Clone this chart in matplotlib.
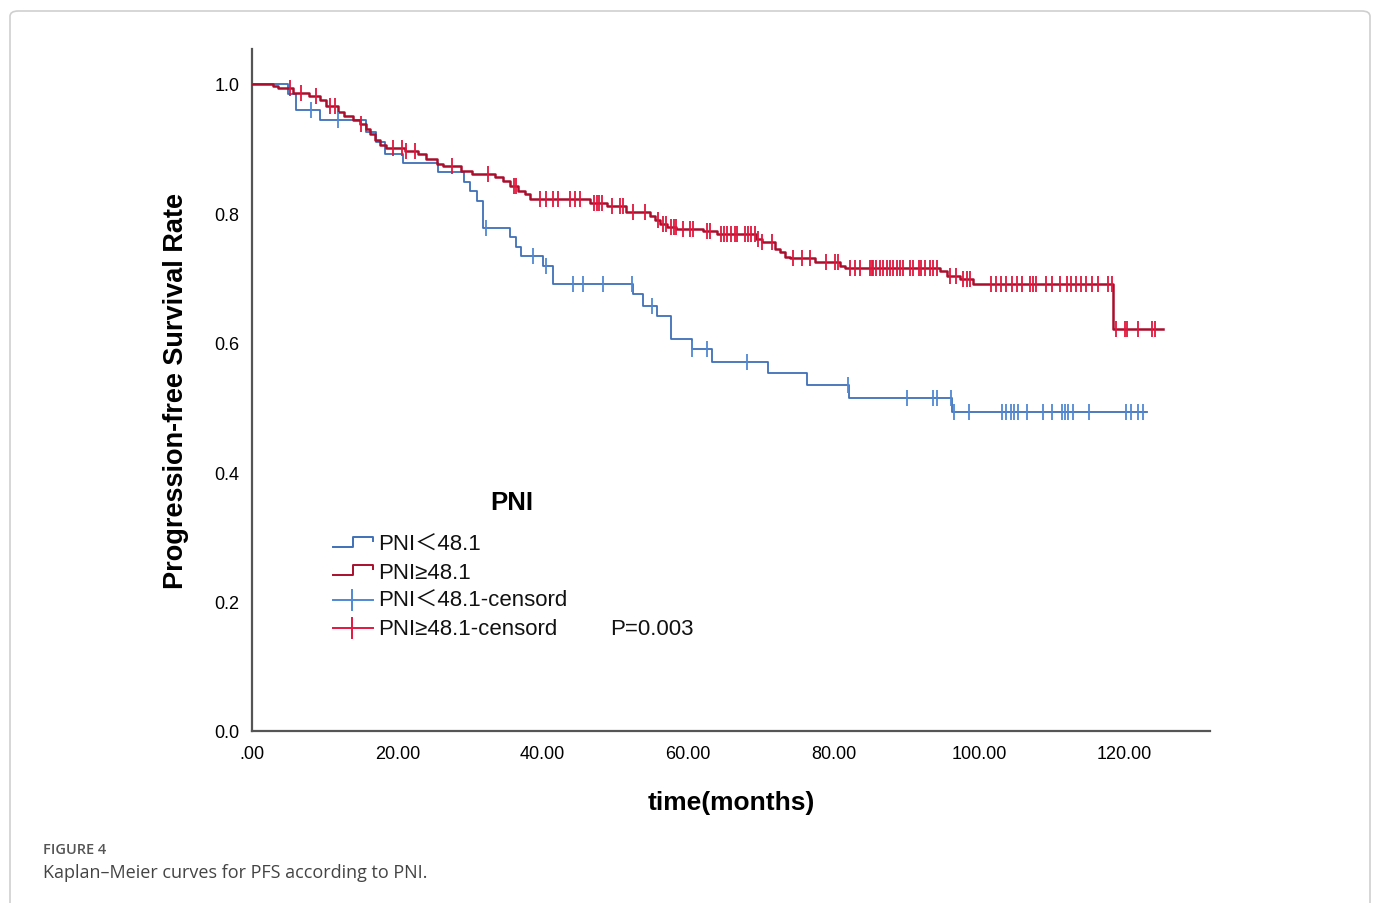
import numpy as np
import matplotlib
matplotlib.use('Agg')
import matplotlib.pyplot as plt
from matplotlib.patches import FancyBboxPatch

plt.rcParams['font.family'] = ['Liberation Sans', 'Noto Sans CJK SC', 'DejaVu Sans']

# PNI < 48.1 : event times (months) and survival after each step
blue_t = [0, 5.0, 6.1, 9.4, 15.7, 17.0, 18.3, 20.8, 25.6, 29.2, 30.0, 30.9, 31.8,
          35.5, 36.3, 37.0, 40.0, 41.4, 52.4, 53.8, 55.7, 57.6, 60.5, 63.3, 71.0,
          76.3, 82.1, 96.3]
blue_s = [1.0, 0.985, 0.96, 0.945, 0.925, 0.91, 0.892, 0.878, 0.864, 0.849, 0.835,
          0.819, 0.777, 0.763, 0.748, 0.734, 0.719, 0.691, 0.675, 0.657, 0.641,
          0.606, 0.59, 0.570, 0.553, 0.535, 0.515, 0.493]
blue_end = 123.2
blue_cens = [8.1, 11.8, 32.2, 38.7, 40.5, 44.2, 45.5, 48.3, 52.3, 55.0, 60.5, 62.6,
             68.1, 82.0, 90.1, 93.7, 94.2, 96.1, 96.6, 98.6, 103.2, 103.8, 104.4,
             104.8, 105.4, 106.6, 108.8, 110.0, 111.4, 111.8, 112.2, 112.9, 115.1,
             120.3, 121.0, 121.9, 122.6]

# PNI >= 48.1
red_t = [0, 2.9, 3.6, 5.6, 7.9, 9.3, 10.2, 11.8, 12.7, 13.9, 14.8, 15.7, 16.2, 16.9,
         17.6, 18.5, 21.0, 22.9, 24.0, 25.4, 26.3, 28.8, 30.2, 33.4, 34.6, 35.5,
         36.6, 37.6, 38.2, 46.5, 48.8, 51.5, 54.7, 55.4, 56.1, 57.1, 58.4, 62.0,
         64.0, 69.4, 70.1, 71.9, 72.6, 73.3, 74.0, 77.4, 80.9, 81.6, 94.6, 95.6,
         97.4, 99.2, 118.4]
red_s = [1.0, 0.997, 0.993, 0.986, 0.981, 0.975, 0.966, 0.957, 0.950, 0.944, 0.938,
         0.931, 0.923, 0.914, 0.906, 0.901, 0.897, 0.891, 0.884, 0.876, 0.873, 0.866,
         0.861, 0.856, 0.850, 0.843, 0.835, 0.830, 0.822, 0.816, 0.811, 0.802, 0.796,
         0.790, 0.784, 0.779, 0.776, 0.773, 0.768, 0.760, 0.755, 0.745, 0.740, 0.733,
         0.731, 0.725, 0.719, 0.716, 0.711, 0.703, 0.699, 0.691, 0.621]
red_end = 125.4
red_cens = [5.2, 6.8, 8.8, 10.7, 11.4, 15.0, 19.4, 20.6, 21.2, 22.4, 27.5, 32.5, 36.0,
            36.3, 39.6, 40.5, 41.4, 42.1, 43.7, 44.4, 45.1, 47.0, 47.4, 47.8, 48.1,
            49.5, 50.6, 51.0, 52.4, 54.1, 55.9, 56.5, 57.0, 57.6, 58.0, 58.3, 59.3,
            60.2, 60.7, 62.6, 63.0, 64.5, 65.0, 65.4, 65.9, 66.4, 66.7, 67.8, 68.3,
            68.7, 69.2, 69.6, 70.1, 71.5, 74.4, 75.6, 76.8, 79.0, 80.2, 80.6, 82.3,
            82.9, 83.6, 85.0, 85.3, 85.5, 85.9, 86.4, 86.8, 87.3, 87.8, 88.2, 88.7,
            89.1, 89.6, 90.5, 91.0, 91.7, 92.1, 92.6, 93.3, 93.7, 94.2, 96.0, 96.9,
            97.8, 98.3, 98.8, 101.7, 102.4, 103.1, 103.8, 104.5, 105.2, 105.9, 107.0,
            107.5, 107.9, 109.3, 110.0, 111.1, 112.1, 112.7, 113.4, 114.1, 114.8,
            115.5, 116.4, 117.8, 118.3, 118.9, 120.1, 120.4, 121.9, 123.8, 124.2]

xticks = [0, 20, 40, 60, 80, 100, 120]
xtick_labels = ['.00', '20.00', '40.00', '60.00', '80.00', '100.00', '120.00']
yticks = [0.0, 0.2, 0.4, 0.6, 0.8, 1.0]

blue_line = '#3f70b8'
blue_mark = '#5089d2'
red_line = '#a80f2c'
red_mark = '#e2163d'


def surv_at(times, surv, x):
    idx = np.searchsorted(times, x, side='right') - 1
    return np.array(surv)[idx]


fig = plt.figure(figsize=(13.78, 9.04), dpi=100)
ax = fig.add_axes([252/1378, 1 - 732/904, 958/1378, 682/904])

for t, s, end, cens, lc, mc, lw in [(blue_t, blue_s, blue_end, blue_cens, blue_line, blue_mark, 1.3),
                                    (red_t, red_s, red_end, red_cens, red_line, red_mark, 1.8)]:
    tt = list(t) + [end]
    ss = list(s) + [s[-1]]
    ax.step(tt, ss, where='post', color=lc, lw=lw, zorder=3)
    ax.plot(cens, surv_at(t, s, cens), ls='none', marker='|', ms=11, mew=1.3,
            color=mc, zorder=4)

ax.set_xlim(0, 131.8)
ax.set_ylim(0, 1.054)
ax.set_xticks(xticks)
ax.set_xticklabels(xtick_labels)
ax.set_yticks(yticks)
ax.set_yticklabels(['%.1f' % v for v in yticks])
ax.tick_params(length=0, labelsize=13, pad=9)
ax.tick_params(axis='x', pad=10)
for side in ['top', 'right']:
    ax.spines[side].set_visible(False)
for side in ['left', 'bottom']:
    ax.spines[side].set_color('#555555')
    ax.spines[side].set_linewidth(1.6)

ax.set_xlabel('time(months)', fontsize=19, fontweight='bold', labelpad=20)
ax.set_ylabel('Progression-free Survival Rate', fontsize=19.5, fontweight='bold', labelpad=18)

# legend drawn by hand, SPSS style
dx = 1 / 958
dy = 1 / 682
ax.text(0.2714, 0.3358, 'PNI', transform=ax.transAxes, fontsize=18.5, fontweight='bold',
        ha='center', va='center')
rows = [0.2742, 0.2331, 0.1921, 0.1510]
labels = ['PNI＜48.1', 'PNI≥48.1', 'PNI＜48.1-censord', 'PNI≥48.1-censord']
colors = [blue_line, red_line, blue_mark, red_mark]
x0 = 0.0846
for i, (yr, lab, c) in enumerate(zip(rows, labels, colors)):
    if i < 2:
        hx = [x0, x0 + 20*dx, x0 + 20*dx, x0 + 40*dx, x0 + 40*dx]
        hy = [yr - 3*dy, yr - 3*dy, yr + 7*dy, yr + 7*dy, yr + 3*dy]
        ax.plot(hx, hy, color=c, lw=1.4, transform=ax.transAxes, clip_on=False)
    else:
        ax.plot([x0, x0 + 40*dx], [yr, yr], color=c, lw=1.4, transform=ax.transAxes,
                clip_on=False)
        ax.plot([x0 + 19*dx, x0 + 19*dx], [yr - 10*dy, yr + 10*dy], color=c, lw=1.4,
                transform=ax.transAxes, clip_on=False)
    ax.text(0.1315, yr, lab, transform=ax.transAxes, fontsize=16, ha='left',
            va='center', color='#111111')
ax.text(0.3737, rows[3], 'P=0.003', transform=ax.transAxes, fontsize=16, ha='left',
        va='center', color='#111111')

# page frame and caption
frame = FancyBboxPatch((10/1378, -0.05), 1360/1378, 1 - 12/904 + 0.05,
                       boxstyle='round,pad=0,rounding_size=0.006',
                       transform=fig.transFigure, fill=False, ec='#cfcfcf', lw=1.2)
fig.patches.append(frame)
fig.text(43/1378, 1 - 850/904, 'FIGURE 4', fontsize=10.5, color='#555555',
         family=['Open Sans', 'DejaVu Sans'], fontweight='semibold', va='center')
fig.text(43/1378, 1 - 873/904, 'Kaplan–Meier curves for PFS according to PNI.',
         fontsize=13, color='#444444', family=['Open Sans', 'DejaVu Sans'], va='center')

fig.savefig('out.png', dpi=100)
